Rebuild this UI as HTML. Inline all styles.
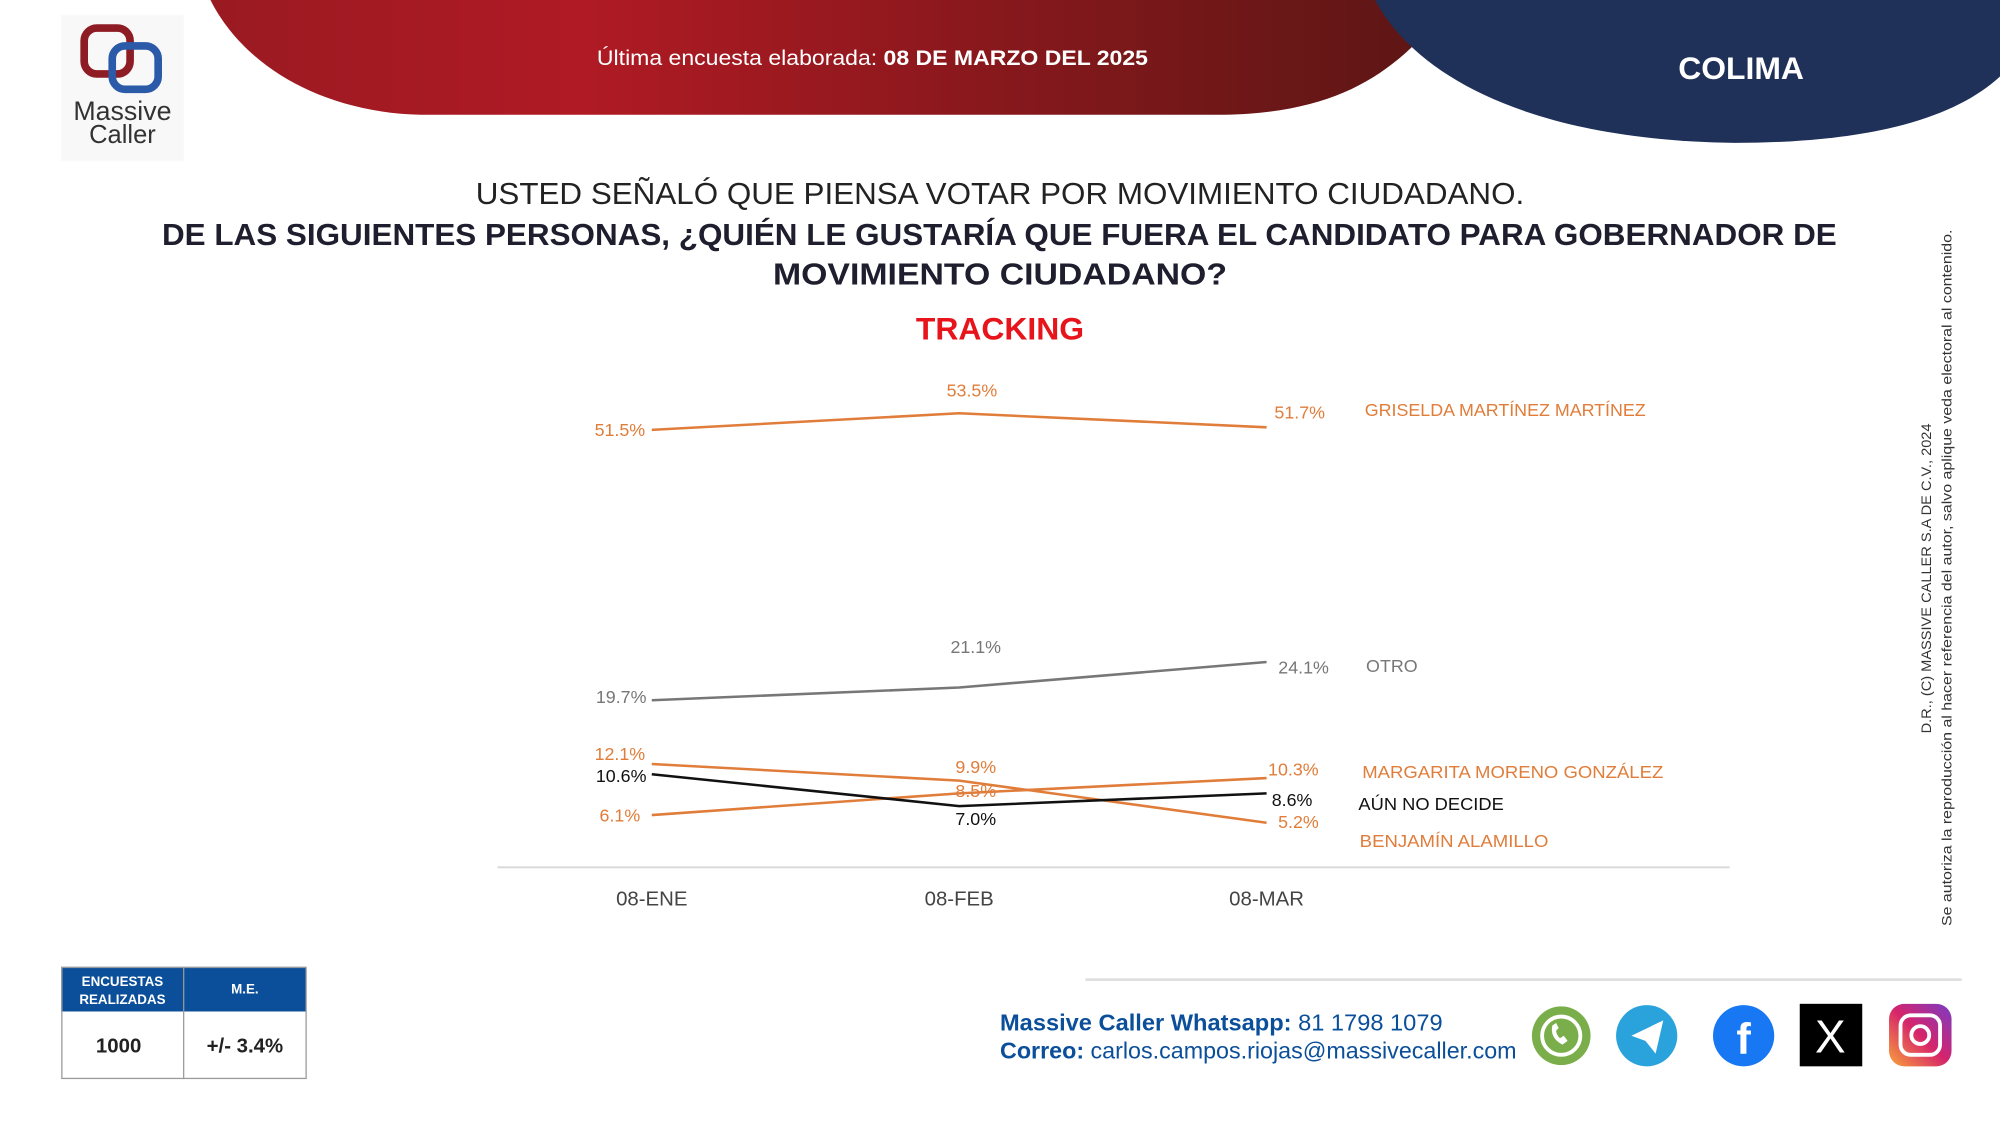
<!DOCTYPE html>
<html><head><meta charset="utf-8"><style>
html,body{margin:0;padding:0;background:#fff;}
svg{display:block;}
text{font-family:"Liberation Sans",sans-serif;}
</style></head><body>
<svg width="2000" height="1125" viewBox="0 0 1568 882" xmlns="http://www.w3.org/2000/svg">
<defs>
<linearGradient id="rg" x1="0" x2="1" y1="0" y2="0">
<stop offset="0" stop-color="#9a1a22"/><stop offset="0.3" stop-color="#b01a24"/><stop offset="1" stop-color="#5a1614"/></linearGradient>
<linearGradient id="ig" x1="0" x2="1" y1="1" y2="0">
<stop offset="0" stop-color="#f9a23a"/><stop offset="0.5" stop-color="#d6246b"/><stop offset="1" stop-color="#7a3bc6"/></linearGradient>
</defs>
<rect width="1568" height="882" fill="#fff"/>
<path d="M165 0 L1140 0 C1100 50 1060 88 960 90 L330 90 C250 88 190 50 165 0Z" fill="url(#rg)"/>
<path d="M1078 0 L1568 0 L1568 60 C1530 95 1460 112 1360 112 C1200 110 1110 60 1078 0Z" fill="#1f3158"/>
<text x="468" y="51" font-size="17" fill="#fff" textLength="432" lengthAdjust="spacingAndGlyphs">Última encuesta elaborada: <tspan font-weight="bold">08 DE MARZO DEL 2025</tspan></text>
<text x="1365" y="62" font-size="25" font-weight="bold" fill="#fff" text-anchor="middle">COLIMA</text>
<rect x="48" y="12" width="96" height="114" fill="#f8f8f8"/>
<rect x="66" y="22" width="36" height="36" rx="10" fill="none" stroke="#8e1c24" stroke-width="6"/>
<rect x="88" y="36" width="36" height="34" rx="10" fill="none" stroke="#2a5aa8" stroke-width="6"/>
<text x="96" y="94" font-size="21" fill="#333" text-anchor="middle">Massive</text>
<text x="96" y="112" font-size="20" fill="#333" text-anchor="middle">Caller</text>
<text x="373" y="160" font-size="24" fill="#222" textLength="822" lengthAdjust="spacingAndGlyphs">USTED SEÑALÓ QUE PIENSA VOTAR POR MOVIMIENTO CIUDADANO.</text>
<text x="127" y="192" font-size="24" font-weight="bold" fill="#1e1e2e" textLength="1313" lengthAdjust="spacingAndGlyphs">DE LAS SIGUIENTES PERSONAS, ¿QUIÉN LE GUSTARÍA QUE FUERA EL CANDIDATO PARA GOBERNADOR DE</text>
<text x="606" y="223" font-size="24" font-weight="bold" fill="#1e1e2e" textLength="356" lengthAdjust="spacingAndGlyphs">MOVIMIENTO CIUDADANO?</text>
<text x="784" y="266" font-size="25" font-weight="bold" fill="#e8141c" text-anchor="middle">TRACKING</text>
<line x1="390" y1="680" x2="1356" y2="680" stroke="#d8d8d8" stroke-width="1.5"/>
<g font-size="16" fill="#444" text-anchor="middle">
<text x="511" y="710">08-ENE</text><text x="752" y="710">08-FEB</text><text x="993" y="710">08-MAR</text></g>
<g fill="none" stroke-width="2">
<polyline points="511,337 752,324 993,335" stroke="#e07d3a"/>
<polyline points="511,549 752,539 993,519" stroke="#777"/>
<polyline points="511,599 752,612 993,645" stroke="#e07d3a"/>
<polyline points="511,639 752,622 993,610" stroke="#e07d3a"/>
<polyline points="511,607 752,632 993,622" stroke="#111"/>
</g>
<g font-size="14">
<text x="486" y="342" fill="#e07d3a" text-anchor="middle">51.5%</text>
<text x="762" y="311" fill="#e07d3a" text-anchor="middle">53.5%</text>
<text x="1019" y="328" fill="#e07d3a" text-anchor="middle">51.7%</text>
<text x="487" y="551" fill="#777" text-anchor="middle">19.7%</text>
<text x="765" y="512" fill="#777" text-anchor="middle">21.1%</text>
<text x="1022" y="528" fill="#777" text-anchor="middle">24.1%</text>
<text x="486" y="596" fill="#e07d3a" text-anchor="middle">12.1%</text>
<text x="487" y="613" fill="#111" text-anchor="middle">10.6%</text>
<text x="486" y="644" fill="#e07d3a" text-anchor="middle">6.1%</text>
<text x="765" y="606" fill="#e07d3a" text-anchor="middle">9.9%</text>
<text x="765" y="625" fill="#e07d3a" text-anchor="middle">8.5%</text>
<text x="765" y="647" fill="#111" text-anchor="middle">7.0%</text>
<text x="1014" y="608" fill="#e07d3a" text-anchor="middle">10.3%</text>
<text x="1013" y="632" fill="#111" text-anchor="middle">8.6%</text>
<text x="1018" y="649" fill="#e07d3a" text-anchor="middle">5.2%</text>
<text x="1070" y="326" fill="#e07d3a">GRISELDA MARTÍNEZ MARTÍNEZ</text>
<text x="1071" y="527" fill="#777">OTRO</text>
<text x="1068" y="610" fill="#e07d3a" textLength="236" lengthAdjust="spacingAndGlyphs">MARGARITA MORENO GONZÁLEZ</text>
<text x="1065" y="635" fill="#111" textLength="114" lengthAdjust="spacingAndGlyphs">AÚN NO DECIDE</text>
<text x="1066" y="664" fill="#e07d3a" textLength="148" lengthAdjust="spacingAndGlyphs">BENJAMÍN ALAMILLO</text>
</g>
<g font-size="11" fill="#333">
<text transform="translate(1514,575) rotate(-90)" textLength="243" lengthAdjust="spacingAndGlyphs">D.R., (C) MASSIVE CALLER S.A DE C.V., 2024</text>
<text transform="translate(1530,726) rotate(-90)" textLength="546" lengthAdjust="spacingAndGlyphs">Se autoriza la reproducción al hacer referencia del autor, salvo aplique veda electoral al contenido.</text>
</g>
<rect x="48" y="758" width="192" height="35" fill="#0b4f9a"/>
<rect x="48.5" y="758.5" width="191.5" height="87" fill="none" stroke="#999"/>
<line x1="144" y1="758" x2="144" y2="846" stroke="#999"/>
<g font-size="10.5" font-weight="bold" fill="#fff" text-anchor="middle">
<text x="96" y="773">ENCUESTAS</text><text x="96" y="787">REALIZADAS</text><text x="192" y="779">M.E.</text></g>
<text x="93" y="825" font-size="16" font-weight="bold" fill="#222" text-anchor="middle">1000</text>
<text x="192" y="825" font-size="16" font-weight="bold" fill="#222" text-anchor="middle">+/- 3.4%</text>
<line x1="851" y1="768" x2="1538" y2="768" stroke="#ddd" stroke-width="2"/>
<text x="784" y="808" font-size="18" fill="#0b4f9a" textLength="347" lengthAdjust="spacingAndGlyphs"><tspan font-weight="bold">Massive Caller Whatsapp:</tspan> 81 1798 1079</text>
<text x="784" y="830" font-size="18" fill="#0b4f9a" textLength="405" lengthAdjust="spacingAndGlyphs"><tspan font-weight="bold">Correo:</tspan> carlos.campos.riojas@massivecaller.com</text>
<circle cx="1224" cy="812" r="23" fill="#7aae4a"/>
<circle cx="1224" cy="812" r="15" fill="none" stroke="#fff" stroke-width="3"/>
<path d="M1217 804 q-2 10 8 15 l4 -3 l-3 -4 l-3 2 q-3 -3 -3 -6 l2 -2 l-2 -4Z" fill="#fff"/>
<circle cx="1291" cy="812" r="24" fill="#2aa3dc"/>
<path d="M1279 812 L1304 800 L1298 826 L1290 816Z" fill="#fff"/>
<circle cx="1367" cy="812" r="24" fill="#1877f2"/>
<text x="1367" y="826" font-size="34" font-weight="bold" fill="#fff" text-anchor="middle">f</text>
<rect x="1411" y="787" width="49" height="49" fill="#000"/>
<text x="1435" y="825" font-size="36" fill="#fff" text-anchor="middle">X</text>
<rect x="1481" y="787" width="49" height="49" rx="12" fill="url(#ig)"/>
<rect x="1490" y="796" width="31" height="31" rx="8" fill="none" stroke="#fff" stroke-width="3"/>
<circle cx="1505.5" cy="811.5" r="7" fill="none" stroke="#fff" stroke-width="3"/>
</svg>
</body></html>
